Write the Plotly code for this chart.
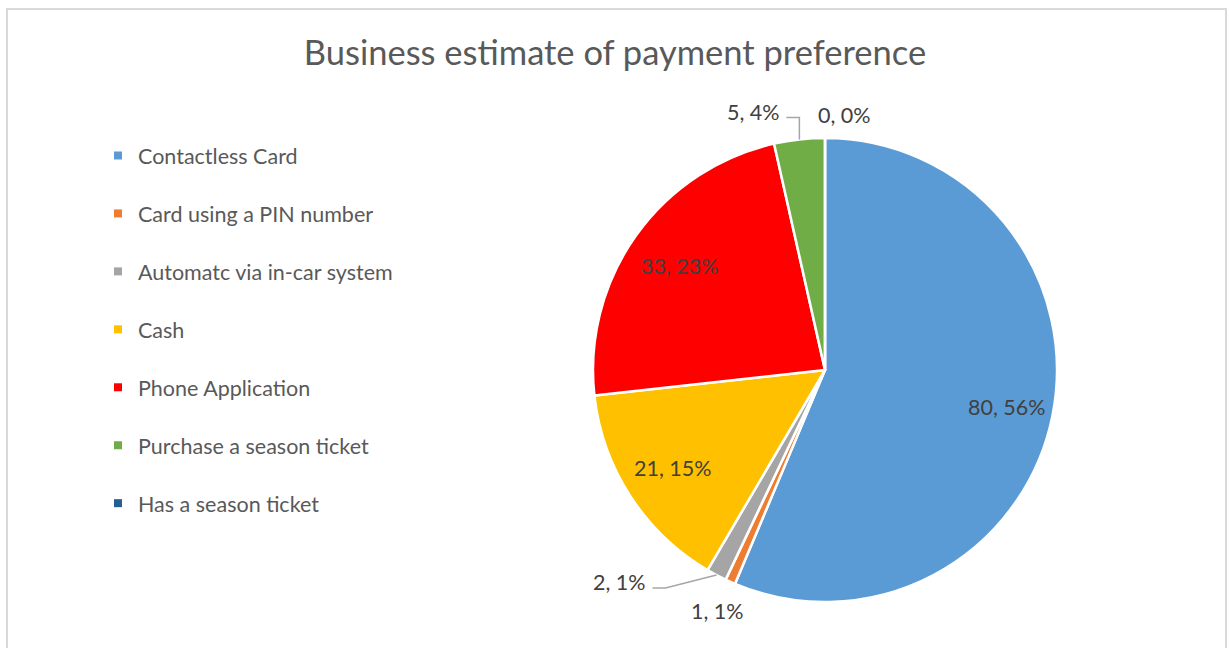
import math
import plotly.graph_objects as go

# Survey categories and counts
categories = [
    "Contactless Card",
    "Card using a PIN number",
    "Automatc via in-car system",
    "Cash",
    "Phone Application",
    "Purchase a season ticket",
    "Has a season ticket",
]
counts = [80, 1, 2, 21, 33, 5, 0]
colors = ["#5B9BD5", "#ED7D31", "#A5A5A5", "#FFC000", "#FF0000", "#70AD47", "#255E91"]

W, H = 1230, 648
CX, CY, R = 825, 370, 232          # pie centre and radius in pixels
FONT = "Lato, 'Open Sans', sans-serif"
TXT = "#404040"

def px(x):
    return x / W

def py(y):
    return 1 - y / H

# label placement per slice: (kind, radius factor, dx, dy, leader)
label_style = [
    ("in", 0.80, 0, 0, False),
    ("out", 1.14, 0, 0, False),
    ("out", None, None, None, True),
    ("in", 0.78, 0, 0, False),
    ("in", 0.77, 0, 0, False),
    ("out", None, None, None, True),
    ("out", 1.10, 20, 0, False),
]

total = sum(counts)
fig = go.Figure()

fig.add_trace(go.Pie(
    labels=categories,
    values=counts,
    sort=False,
    direction="clockwise",
    rotation=0,
    marker=dict(colors=colors, line=dict(color="white", width=2.5)),
    textinfo="none",
    hoverinfo="label+value+percent",
    showlegend=False,
    domain=dict(x=[px(CX - R), px(CX + R)], y=[py(CY + R), py(CY - R)]),
))

# Legend entries as one group per category so they can be spaced apart
for name, col in zip(categories, colors):
    fig.add_trace(go.Scatter(
        x=[None], y=[None], mode="markers", name=name,
        marker=dict(symbol="square", size=8, color=col),
        legendgroup=name, showlegend=True,
    ))

annotations = []
shapes = []
cum = 0
for i, (name, v) in enumerate(zip(categories, counts)):
    a0 = cum / total * 360
    cum += v
    a1 = cum / total * 360
    mid = math.radians((a0 + a1) / 2)
    sx, sy = math.sin(mid), -math.cos(mid)
    pct = round(v / total * 100)
    text = f"{v}, {pct}%"
    kind, rf, dx, dy, leader = label_style[i]
    if leader:
        ex, ey = CX + R * sx, CY + R * sy
        if sy < 0:   # upper slice: line goes straight up then left
            kx, ky = ex, ey - 22
            lx, ly = kx - 13, ky
            tx, ty = lx - 33, ly - 5
        else:        # lower slice: diagonal then horizontal
            kx, ky = ex - 51, ey + 13
            lx, ly = kx - 13, ky
            tx, ty = lx - 33, ly - 6
        shapes.append(dict(
            type="path", xref="paper", yref="paper",
            path=f"M {px(ex)} {py(ey)} L {px(kx)} {py(ky)} L {px(lx)} {py(ly)}",
            line=dict(color="#A6A6A6", width=1.5),
        ))
    else:
        tx = CX + rf * R * sx + dx
        ty = CY + rf * R * sy + dy
    annotations.append(dict(
        x=px(tx), y=py(ty), xref="paper", yref="paper", text=text,
        showarrow=False, xanchor="center", yanchor="middle",
        font=dict(family=FONT, size=21.5, color=TXT),
    ))

# chart frame
shapes.append(dict(
    type="rect", xref="paper", yref="paper",
    x0=px(7), x1=px(1226), y0=py(660), y1=py(9),
    line=dict(color="#D9D9D9", width=2), fillcolor="rgba(0,0,0,0)", layer="below",
))

fig.update_layout(
    width=W, height=H,
    margin=dict(l=0, r=0, t=0, b=0),
    paper_bgcolor="white", plot_bgcolor="white",
    title=dict(
        text="Business estimate of payment preference",
        x=0.5, xanchor="center", y=py(53), yanchor="middle",
        font=dict(family=FONT, size=34.5, color="#595959"),
    ),
    xaxis=dict(visible=False), yaxis=dict(visible=False),
    legend=dict(
        x=px(98), y=py(135), xanchor="left", yanchor="top",
        font=dict(family=FONT, size=21.5, color="#595959"),
        tracegroupgap=27, bgcolor="rgba(0,0,0,0)",
    ),
    annotations=annotations,
    shapes=shapes,
)

fig.write_html("out.html")
